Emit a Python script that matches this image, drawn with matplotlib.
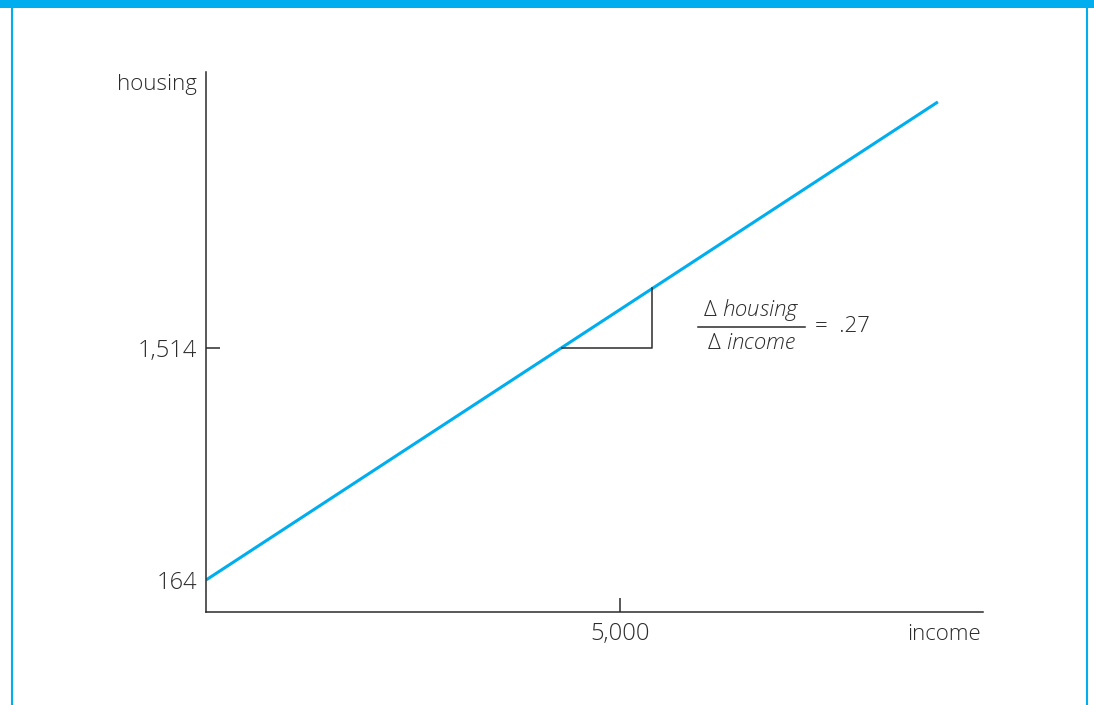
import matplotlib.pyplot as plt
from matplotlib.lines import Line2D
from matplotlib.patches import Rectangle

plt.rcParams['font.family'] = ['Open Sans', 'DejaVu Sans']
plt.rcParams['font.weight'] = 'light'
plt.rcParams['mathtext.fontset'] = 'custom'
plt.rcParams['mathtext.rm'] = 'Open Sans'
plt.rcParams['mathtext.it'] = 'Open Sans:italic:light'

# schematic line
income = [0, 8840]
housing = [164, 2945]

# slope triangle
tri_income = [4300, 5390, 5390]
tri_housing = [1514, 1514, 1860]

xticks = [5000]
xtick_labels = ['5,000']
yticks = [164, 1514]
ytick_labels = ['164', '1,514']

blue = '#00aeef'
dark = '#2b2b2b'

fig = plt.figure(figsize=(10.94, 7.05), dpi=100)
ax = fig.add_axes([206/1094, 1 - 612/705, (983 - 206)/1094, (612 - 72)/705])

ax.plot(income, housing, color=blue, lw=2.2, solid_capstyle='butt')
ax.plot(tri_income, tri_housing, color=dark, lw=1.1)

ax.set_xlim(0, 9385)
ax.set_ylim(-22, 3119)

for s in ['top', 'right']:
    ax.spines[s].set_visible(False)
for s in ['left', 'bottom']:
    ax.spines[s].set_color(dark)
    ax.spines[s].set_linewidth(1.1)

ax.set_xticks(xticks)
ax.set_xticklabels(xtick_labels)
ax.set_yticks(yticks)
ax.set_yticklabels(ytick_labels)
ax.tick_params(axis='both', direction='in', length=10, width=1.1, color=dark,
               labelsize=17, labelcolor=dark)
ax.tick_params(axis='x', pad=7.5)
ax.tick_params(axis='y', pad=6.5)
# 164 has no tick mark in the reference
ax.yaxis.get_major_ticks()[0].tick1line.set_visible(False)

ax.text(-0.012, 0.976, 'housing', transform=ax.transAxes, ha='right', va='center',
        fontsize=16, color=dark)
ax.text(0.997, -0.022, 'income', transform=ax.transAxes, ha='right', va='top',
        fontsize=16, color=dark)

# slope annotation
fx0, fx1 = 698/1094, 805/1094
fy = 1 - 327/705
fig.add_artist(Line2D([fx0, fx1], [fy, fy], color=dark, lw=1.1))
fig.text((fx0 + fx1)/2, fy + 0.006, r'$\Delta\ \mathit{housing}$', ha='center', va='bottom',
         fontsize=16, color=dark)
fig.text((fx0 + fx1)/2, fy - 0.008, r'$\Delta\ \mathit{income}$', ha='center', va='top',
         fontsize=16, color=dark)
fig.text(815/1094, fy, '=  .27', ha='left', va='center', fontsize=16, color=dark)

# page frame
fig.add_artist(Rectangle((0, 1 - 8/705), 1, 8/705, color=blue, lw=0))
fig.add_artist(Line2D([12/1094, 12/1094], [0, 1 - 8/705], color=blue, lw=1.5))
fig.add_artist(Line2D([1087/1094, 1087/1094], [0, 1 - 8/705], color=blue, lw=1.5))

fig.savefig('out.png', dpi=100)
